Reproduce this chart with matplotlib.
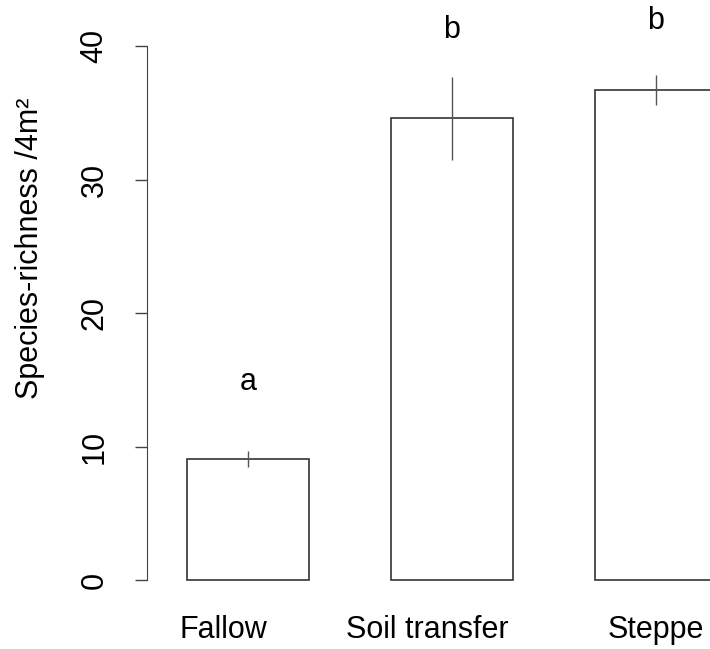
import numpy as np
import matplotlib
matplotlib.use('Agg')
import matplotlib.pyplot as plt

# Data
categories = ['Fallow', 'Soil transfer', 'Steppe']
richness = [9.1, 34.6, 36.7]
richness_err = [0.6, 3.1, 1.15]
letters = ['a', 'b', 'b']
letter_heights = [14.8, 41.2, 41.9]
y_ticks = [0, 10, 20, 30, 40]

plt.rcParams['font.family'] = ['Liberation Sans', 'DejaVu Sans']

fig = plt.figure(figsize=(7.10, 6.49), dpi=100)
ax = fig.add_axes([0.207, 0.0733, 0.793, 0.9257])

x = np.arange(len(categories))
ax.bar(x, richness, width=0.6, color='white', edgecolor='#333333', linewidth=1.2)
ax.errorbar(x, richness, yerr=richness_err, fmt='none', ecolor='#555555',
            elinewidth=1.0, capsize=0)

for xi, lab, h in zip(x, letters, letter_heights):
    ax.text(xi, h, lab, ha='center', va='center', fontsize=22)

ax.set_xlim(-0.495, 2.265)
ax.set_ylim(-1.6, 43.4)

# R-style axes: only a left axis line between the extreme ticks
for side in ['top', 'right', 'bottom']:
    ax.spines[side].set_visible(False)
ax.spines['left'].set_bounds(0, 40)
ax.spines['left'].set_color('#444444')
ax.set_yticks(y_ticks)
ax.set_yticklabels([str(t) for t in y_ticks], rotation=90, va='center', fontsize=22)
ax.tick_params(axis='y', length=9, width=1, color='#444444', pad=18)

# category labels sit slightly left of the first two bars in the original
ax.set_xticks(x + np.array([-0.12, -0.12, 0.0]))
ax.set_xticklabels(categories, fontsize=22)
ax.tick_params(axis='x', length=0, pad=10)

fig.text(30 / 710, 1 - 248 / 649, 'Species-richness /4m²', rotation=90,
         ha='center', va='center', fontsize=22)

plt.savefig('out.png', dpi=100)
